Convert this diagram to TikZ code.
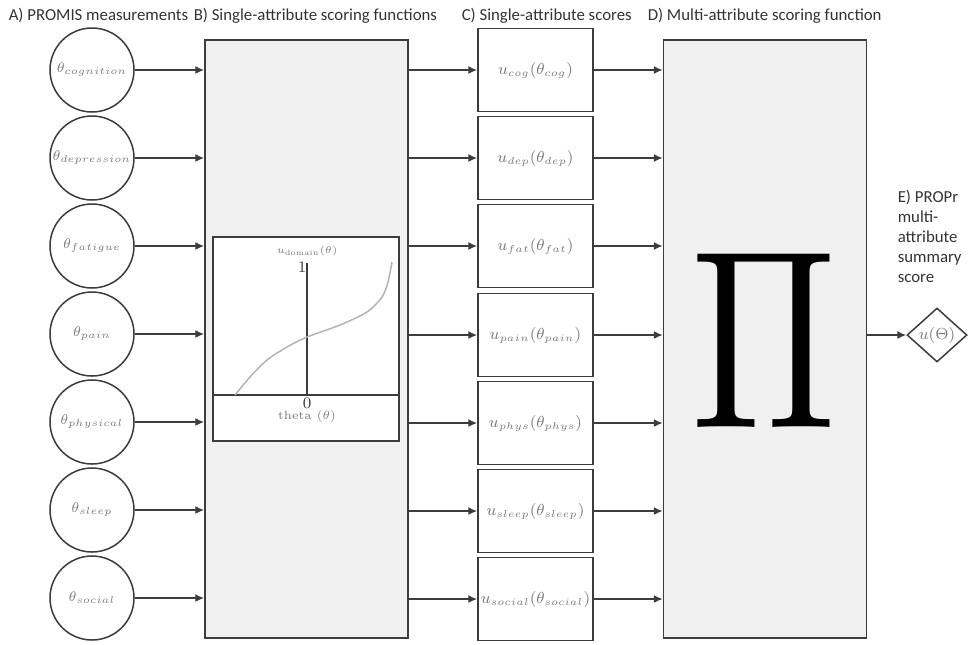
\documentclass[tikz,border=0pt]{standalone}
\usepackage{fontspec}
\setsansfont{Carlito}
\usepackage{graphicx}
\usetikzlibrary{shapes.geometric,arrows.meta}

\definecolor{linegray}{HTML}{3C3C3C}
\definecolor{labelgray}{HTML}{7A7A7A}
\definecolor{headgray}{HTML}{333333}
\definecolor{boxgray}{HTML}{F0F0F0}
\definecolor{curvegray}{HTML}{B4B4B4}

\begin{document}
\begin{tikzpicture}[x=0.5pt, y=-0.5pt, line width=0.75pt,
  >={Latex[length=4.5pt,width=4pt]},
  meas/.style={draw=linegray, circle, minimum size=42pt, inner sep=0pt,
    font=\fontsize{7.4}{9}\selectfont, text=labelgray},
  score/.style={draw=linegray, rectangle, minimum width=57.5pt, minimum height=41.5pt,
    inner sep=0pt, font=\fontsize{7.8}{9}\selectfont, text=labelgray},
  panel/.style={draw=linegray, fill=boxgray, rectangle, minimum width=101.5pt,
    minimum height=299pt, inner sep=0pt},
  head/.style={font=\sffamily\fontsize{8.4}{10}\selectfont, text=headgray, anchor=west,
    inner sep=0pt},
  link/.style={->, draw=linegray}]
\useasboundingbox (0,0) rectangle (968,644);

% Headings
\node[head] (ha) at (8,16) {A) PROMIS measurements};
\node[head] (hb) at (193,16) {B) Single-attribute scoring functions};
\node[head] (hc) at (461,16) {C) Single-attribute scores};
\node[head] (hd) at (647,16) {D) Multi-attribute scoring function};

% PROMIS measurements
\node[meas] (cog) at (92,70) {$\theta_{cognition}$};
\node[meas] (dep) at (92,158) {$\theta_{depression}$};
\node[meas] (fat) at (92,246) {$\theta_{fatigue}$};
\node[meas] (pain) at (92,334) {$\theta_{pain}$};
\node[meas] (phys) at (92,422) {$\theta_{physical}$};
\node[meas] (sleep) at (92,510) {$\theta_{sleep}$};
\node[meas] (social) at (92,598) {$\theta_{social}$};

% Single-attribute scoring functions
\node[panel] (funcs) at (306.5,339) {};
\node[draw=linegray, fill=white, rectangle, minimum width=93pt, minimum height=102pt,
  inner sep=0pt] (plot) at (306,339) {};
\coordinate (origin) at (307,395);
\draw[linegray] (plot.west |- origin) -- (plot.east |- origin);
\draw[linegray] (origin) -- (307,263);
\draw[curvegray] plot[smooth] coordinates {(235,395) (250,377) (267,360) (287,347)
  (307,337) (340,325) (367,312) (382,297) (388,282) (392,262)};
\node[font=\fontsize{5.5}{6}\selectfont, text=labelgray] (ulab) at (307,251)
  {$u_{\mathrm{domain}}(\theta)$};
\node[font=\fontsize{8}{9}\selectfont, text=linegray] (one) at (302,267) {1};
\node[font=\fontsize{8}{9}\selectfont, text=linegray] (zero) at (307,403) {0};
\node[font=\fontsize{6}{7}\selectfont, text=labelgray] (tlab) at (307,416)
  {theta ($\theta$)};

% Single-attribute scores
\node[score] (ucog) at (535.5,70) {$u_{cog}(\theta_{cog})$};
\node[score] (udep) at (535.5,158) {$u_{dep}(\theta_{dep})$};
\node[score] (ufat) at (535.5,246) {$u_{fat}(\theta_{fat})$};
\node[score] (upain) at (535.5,335) {$u_{pain}(\theta_{pain})$};
\node[score] (uphys) at (535.5,423) {$u_{phys}(\theta_{phys})$};
\node[score] (usleep) at (535.5,511) {$u_{sleep}(\theta_{sleep})$};
\node[score] (usocial) at (535.5,599) {$u_{social}(\theta_{social})$};

% Multi-attribute scoring function
\node[panel] (multi) at (765,339) {};
\node (prod) at (763.5,340) {\resizebox*{72.5pt}{87pt}{$\Pi$}};

% Summary score
\node[font=\sffamily\fontsize{8.4}{10}\selectfont, text=headgray, align=left,
  anchor=west, inner sep=0pt] (elab) at (897,236)
  {E) PROPr\\multi-\\attribute\\summary\\score};
\node[draw=linegray, diamond, aspect=1.1, minimum width=30pt, minimum height=27pt,
  inner sep=0pt, font=\fontsize{7.8}{9}\selectfont, text=labelgray] (total)
  at (937,335) {$u(\Theta)$};

% Connections
\draw[link] (cog) -- (funcs.west |- cog);
\draw[link] (dep) -- (funcs.west |- dep);
\draw[link] (fat) -- (funcs.west |- fat);
\draw[link] (pain) -- (funcs.west |- pain);
\draw[link] (phys) -- (funcs.west |- phys);
\draw[link] (sleep) -- (funcs.west |- sleep);
\draw[link] (social) -- (funcs.west |- social);

\draw[link] (funcs.east |- ucog) -- (ucog);
\draw[link] (funcs.east |- udep) -- (udep);
\draw[link] (funcs.east |- ufat) -- (ufat);
\draw[link] (funcs.east |- upain) -- (upain);
\draw[link] (funcs.east |- uphys) -- (uphys);
\draw[link] (funcs.east |- usleep) -- (usleep);
\draw[link] (funcs.east |- usocial) -- (usocial);

\draw[link] (ucog) -- (multi.west |- ucog);
\draw[link] (udep) -- (multi.west |- udep);
\draw[link] (ufat) -- (multi.west |- ufat);
\draw[link] (upain) -- (multi.west |- upain);
\draw[link] (uphys) -- (multi.west |- uphys);
\draw[link] (usleep) -- (multi.west |- usleep);
\draw[link] (usocial) -- (multi.west |- usocial);

\draw[link] (multi.east |- total) -- (total);

\end{tikzpicture}
\end{document}
